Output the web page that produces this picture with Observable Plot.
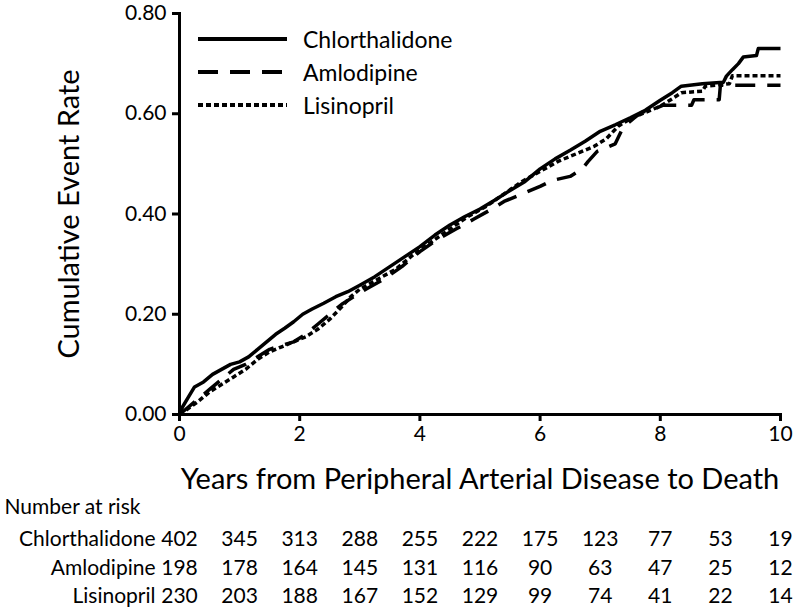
<!DOCTYPE html>
<html>
<head>
<meta charset="utf-8">
<script src="https://cdn.jsdelivr.net/npm/d3@7"></script>
<script src="https://cdn.jsdelivr.net/npm/@observablehq/plot@0.6"></script>
<style>
  html, body { margin: 0; padding: 0; background: #fff; }
  #wrap { position: relative; width: 793px; height: 612px; font-family: Lato, "Noto Sans", sans-serif; }
  #legend { position: absolute; left: 198px; top: 22px; font-size: 23px; color: #000; }
  #legend .row { display: flex; align-items: center; height: 33px; }
  #legend svg { margin-right: 16px; }
</style>
</head>
<body>
<div id="wrap"></div>
<script>
// ---- Data ----
const seriesNames = ["Chlorthalidone", "Amlodipine", "Lisinopril"];

const chlorT = [0, 0.05, 0.15, 0.25, 0.4, 0.55, 0.7, 0.85, 1.0, 1.15, 1.3, 1.45, 1.6, 1.75, 1.9, 2.05, 2.2, 2.4, 2.6, 2.8, 3.0, 3.25, 3.5, 3.75, 4.0, 4.25, 4.5, 4.75, 5.0, 5.25, 5.5, 5.75, 6.0, 6.25, 6.5, 6.75, 7.0, 7.25, 7.5, 7.75, 8.0, 8.2, 8.35, 8.7, 9.05, 9.1, 9.2, 9.3, 9.38, 9.6, 9.63, 10];
const chlorV = [0, 0.015, 0.035, 0.055, 0.065, 0.08, 0.09, 0.1, 0.105, 0.115, 0.13, 0.145, 0.16, 0.172, 0.185, 0.2, 0.21, 0.222, 0.235, 0.245, 0.258, 0.275, 0.295, 0.315, 0.335, 0.358, 0.378, 0.395, 0.41, 0.428, 0.447, 0.465, 0.49, 0.51, 0.527, 0.545, 0.565, 0.578, 0.592, 0.607, 0.627, 0.642, 0.655, 0.66, 0.663, 0.675, 0.688, 0.70, 0.713, 0.716, 0.73, 0.73];

const amloT = [0, 0.1, 0.3, 0.5, 0.7, 0.9, 1.1, 1.3, 1.5, 1.7, 1.9, 2.1, 2.3, 2.5, 2.7, 2.9, 3.1, 3.4, 3.7, 4.0, 4.3, 4.6, 4.9, 5.2, 5.4, 5.7, 6.0, 6.2, 6.5, 6.7, 6.8, 6.95, 7.25, 7.35, 7.45, 7.6, 7.7, 7.95, 8.05, 8.52, 8.56, 8.98, 9.0, 10];
const amloV = [0, 0.01, 0.03, 0.05, 0.07, 0.09, 0.1, 0.115, 0.13, 0.138, 0.145, 0.16, 0.18, 0.2, 0.22, 0.235, 0.25, 0.27, 0.295, 0.325, 0.35, 0.37, 0.39, 0.41, 0.425, 0.44, 0.455, 0.467, 0.475, 0.49, 0.505, 0.525, 0.54, 0.565, 0.58, 0.595, 0.603, 0.612, 0.617, 0.617, 0.628, 0.628, 0.657, 0.657];

const lisiT = [0, 0.1, 0.3, 0.5, 0.7, 0.9, 1.1, 1.3, 1.5, 1.7, 1.9, 2.1, 2.3, 2.5, 2.7, 2.85, 3.0, 3.3, 3.6, 3.9, 4.2, 4.5, 4.8, 5.1, 5.4, 5.7, 6.0, 6.3, 6.6, 6.9, 7.1, 7.3, 7.5, 7.7, 8.0, 8.2, 8.35, 8.7, 8.75, 9.15, 9.2, 10];
const lisiV = [0, 0.008, 0.025, 0.045, 0.06, 0.075, 0.09, 0.11, 0.125, 0.135, 0.145, 0.155, 0.17, 0.19, 0.215, 0.235, 0.25, 0.27, 0.29, 0.32, 0.345, 0.37, 0.395, 0.415, 0.44, 0.465, 0.485, 0.505, 0.52, 0.535, 0.55, 0.575, 0.59, 0.6, 0.615, 0.63, 0.642, 0.645, 0.655, 0.66, 0.676, 0.676];

const riskYears = [0, 1, 2, 3, 4, 5, 6, 7, 8, 9, 10];
const riskChlor = [402, 345, 313, 288, 255, 222, 175, 123, 77, 53, 19];
const riskAmlo  = [198, 178, 164, 145, 131, 116, 90, 63, 47, 25, 12];
const riskLisi  = [230, 203, 188, 167, 152, 129, 99, 74, 41, 22, 14];

const xTicks = [0, 2, 4, 6, 8, 10];
const yTicks = [0, 0.2, 0.4, 0.6, 0.8];

// ---- Build ----
const dashes = { "Chlorthalidone": null, "Amlodipine": "20,12", "Lisinopril": "5,3" };
const toRows = (T, V) => T.map((t, i) => ({ t, v: V[i] }));
const curves = [toRows(chlorT, chlorV), toRows(amloT, amloV), toRows(lisiT, lisiV)];
const riskRows = [riskChlor, riskAmlo, riskLisi].map(arr => riskYears.map((yr, i) => ({ yr, n: arr[i] })));

const lineMarks = curves.map((rows, i) => Plot.line(rows, {
  x: "t", y: "v", curve: "linear", stroke: "#000", strokeWidth: 3.5,
  strokeDasharray: dashes[seriesNames[i]], strokeLinejoin: "round", strokeLinecap: "butt"
}));

const rowDy = [131, 160, 188];
const tableMarks = [];
riskRows.forEach((rows, i) => {
  tableMarks.push(Plot.text(rows, { x: "yr", text: d => String(d.n), frameAnchor: "bottom", dy: rowDy[i], fontSize: 21, fill: "#000" }));
  tableMarks.push(Plot.text([seriesNames[i]], { frameAnchor: "bottom-left", textAnchor: "end", dx: -24, dy: rowDy[i], fontSize: 21, fill: "#000" }));
});

const chart = Plot.plot({
  width: 793,
  height: 612,
  marginLeft: 179,
  marginRight: 13,
  marginTop: 13,
  marginBottom: 198,
  style: { fontFamily: "Lato, 'Noto Sans', sans-serif", background: "#fff", color: "#000", overflow: "visible" },
  x: { domain: [0, 10] },
  y: { domain: [0, 0.8] },
  marks: [
    Plot.frame({ anchor: "left", strokeWidth: 3, stroke: "#000" }),
    Plot.frame({ anchor: "bottom", strokeWidth: 3, stroke: "#000" }),
    Plot.axisX({ ticks: xTicks, tickSize: 7, tickPadding: 5, strokeWidth: 3, fontSize: 21, label: null, tickFormat: d3.format("d") }),
    Plot.axisY({ ticks: yTicks, tickSize: 7, tickPadding: 6, strokeWidth: 3, fontSize: 21, label: null, tickFormat: d3.format(".2f") }),
    Plot.text(["Cumulative Event Rate"], { frameAnchor: "left", rotate: -90, textAnchor: "middle", dx: -110, fontSize: 29, fill: "#000" }),
    Plot.text(["Years from Peripheral Arterial Disease to Death"], { frameAnchor: "bottom", textAnchor: "middle", dy: 74, fontSize: 29, fill: "#000" }),
    Plot.text(["Number at risk"], { frameAnchor: "bottom-left", textAnchor: "start", dx: -175, dy: 99, fontSize: 21, fill: "#000" }),
    ...lineMarks,
    ...tableMarks
  ]
});

const wrap = document.getElementById("wrap");
wrap.appendChild(chart);

// Legend (overlaid inside the plot area, top-left)
const legend = document.createElement("div");
legend.id = "legend";
seriesNames.forEach(name => {
  const row = document.createElement("div");
  row.className = "row";
  const dash = dashes[name] ? `stroke-dasharray="${dashes[name]}"` : "";
  row.innerHTML = `<svg width="89" height="6"><line x1="0" y1="3" x2="89" y2="3" stroke="#000" stroke-width="4" ${dash}/></svg><span>${name}</span>`;
  legend.appendChild(row);
});
wrap.appendChild(legend);
</script>
</body>
</html>
